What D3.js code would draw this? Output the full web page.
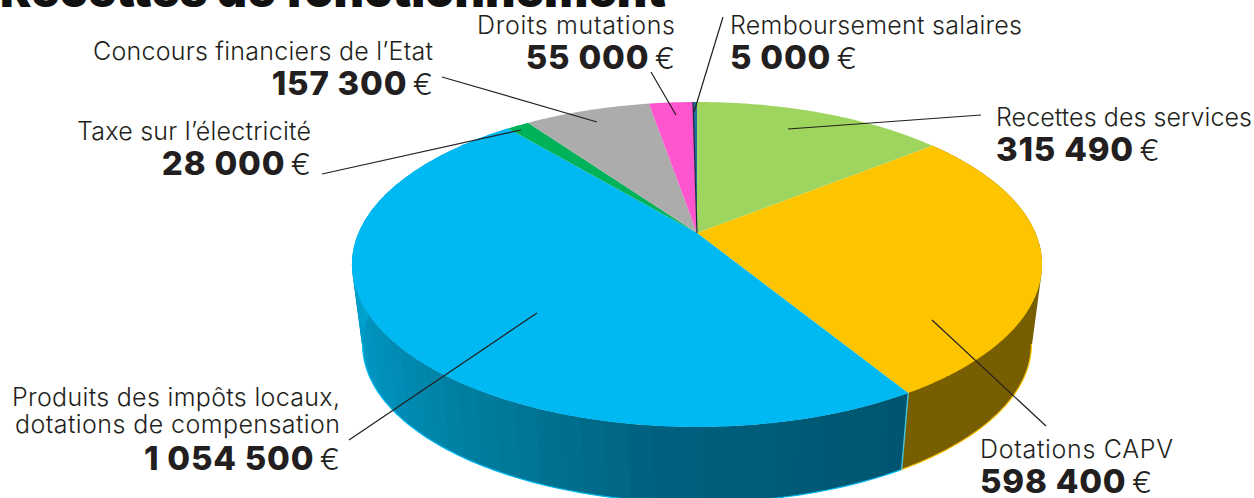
<!DOCTYPE html>
<html><head><meta charset="utf-8">
<script src="https://cdn.jsdelivr.net/npm/d3@7/dist/d3.min.js"></script>
<style>
html,body{margin:0;padding:0;background:#fff;overflow:hidden}
svg{display:block}
text{font-family:Inter,"Noto Sans",sans-serif;fill:#231f20}
.n{font-weight:300;font-size:25px}
.v{font-weight:800;font-size:33px;letter-spacing:.8px}
.e{font-weight:300;font-size:30px}
.t{font-weight:900;font-size:47px;fill:#111}
</style></head><body>
<script>
const title = "Recettes de fonctionnement";
const categories = ["Recettes des services","Dotations CAPV","Produits des impôts locaux, dotations de compensation","Taxe sur l’électricité","Concours financiers de l’Etat","Droits mutations","Remboursement salaires"];
const values = [315490,598400,1054500,28000,157300,55000,5000];
const valueLabels = ["315 490","598 400","1 054 500","28 000","157 300","55 000","5 000"];
const colors = ["#9dd55f","#fdc400","#00b9f2","#00b25a","#acacac","#ff55cf","#1f6fa0"];
const labelLines = [["Recettes des services"],["Dotations CAPV"],["Produits des impôts locaux,","dotations de compensation"],["Taxe sur l’électricité"],["Concours financiers de l’Etat"],["Droits mutations"],["Remboursement salaires"]];

// layout (separate from data)
const W=1254,H=498;
const labelLayout=[
 {x:996,y:126,a:"start",dy:35,w:[256]},
 {x:980,y:458,a:"start",dy:35,w:[193]},
 {x:340,y:406,a:"end",dy:37,lh:27,w:[328,325]},
 {x:311,y:140,a:"end",dy:35,w:[234]},
 {x:433,y:60,a:"end",dy:35,w:[340]},
 {x:675,y:34,a:"end",dy:35,w:[198]},
 {x:730,y:34,a:"start",dy:35,w:[292]}
];
const leaders=[[981,115,788,129],[1046,426,932,320],[349,440,537,313],[322,174,521,130],[442,77,597,122],[651,72,676,115],[723,17,694,112]];

// perspective projection of the pie discs
const k=-0.1938;
const top_={cx:697,cy:233,A:156.4,B:338.5};
const bot_={cx:697,cy:314,A:152,B:328};
function proj(d,theta){const x=Math.sin(theta),u=-Math.cos(theta),den=1+k*u;return [d.cx+d.B*x/den,d.cy+d.A*u/den];}
const arcPoints=(d,a0,a1)=>{const n=Math.max(2,Math.ceil((a1-a0)/0.01));return d3.range(n+1).map(i=>proj(d,a0+(a1-a0)*i/n));};

const pie=d3.pie().sort(null).value(v=>v);
const arcs=pie(values);
const svg=d3.select("body").append("svg").attr("width",W).attr("height",H);
const line=d3.line();

// side wall: convex hull of the pieces of both discs
const deg=Math.PI/180;
const blueShade=d3.scaleLinear().domain([148,185,200,235,270,300]).range(["#00556f","#00607e","#00718f","#008fb8","#00a3d0","#00a9dc"]);
const bandStep=3.4*deg;
const side=svg.append("g");
const hull=(s,e)=>line(d3.polygonHull([...arcPoints(top_,s,e),...arcPoints(bot_,s,e)]))+"Z";
const visibleFrom=101*deg, visibleTo=259*deg;
side.append("path").attr("d",hull(arcs[1].startAngle,arcs[1].endAngle)).attr("fill","#775e00");
d3.range(arcs[2].startAngle,arcs[2].endAngle,bandStep).forEach(s=>{
  const e=Math.min(s+bandStep*1.5,arcs[2].endAngle);
  side.append("path").attr("d",hull(s,e)).attr("fill",blueShade((s+bandStep/2)/deg));
});
[1,2].forEach(i=>{
  const s=Math.max(arcs[i].startAngle,visibleFrom), e=Math.min(arcs[i].endAngle,visibleTo);
  side.append("path").attr("d",line(arcPoints(bot_,s,e))).attr("fill","none").attr("stroke",colors[i]).attr("stroke-width",1.2);
});
side.append("path").attr("d",line([proj(top_,arcs[2].startAngle),proj(bot_,arcs[2].startAngle)])).attr("stroke","#45c3d8").attr("stroke-width",1.4);

// top face
svg.append("g").selectAll("path").data(arcs).join("path")
  .attr("d",a=>line([[top_.cx,top_.cy],...arcPoints(top_,a.startAngle,a.endAngle)])+"Z")
  .attr("fill",(a,i)=>colors[i]);
svg.append("path").attr("d",line([[top_.cx,top_.cy],proj(top_,arcs[6].startAngle)])).attr("stroke","#1b2a3a").attr("stroke-width",1.2);

// leaders
svg.append("g").selectAll("line").data(leaders).join("line")
  .attr("x1",d=>d[0]).attr("y1",d=>d[1]).attr("x2",d=>d[2]).attr("y2",d=>d[3])
  .attr("stroke","#231f20").attr("stroke-width",1.2);

// labels
svg.append("text").attr("class","t").attr("x",0).attr("y",7).text(title);
labelLines.forEach((ls,i)=>{
  const L=labelLayout[i];
  ls.forEach((s,j)=>{
    svg.append("text").attr("class","n").attr("x",L.x).attr("y",L.y+j*(L.lh||0)).attr("text-anchor",L.a)
      .attr("textLength",L.w[j]).attr("lengthAdjust","spacing").text(s);
  });
  const t=svg.append("text").attr("x",L.x).attr("y",L.y+(ls.length-1)*(L.lh||0)+L.dy).attr("text-anchor",L.a);
  t.append("tspan").attr("class","v").text(valueLabels[i]);
  t.append("tspan").attr("class","e").text("\u2009€");
});
</script>
</body></html>
